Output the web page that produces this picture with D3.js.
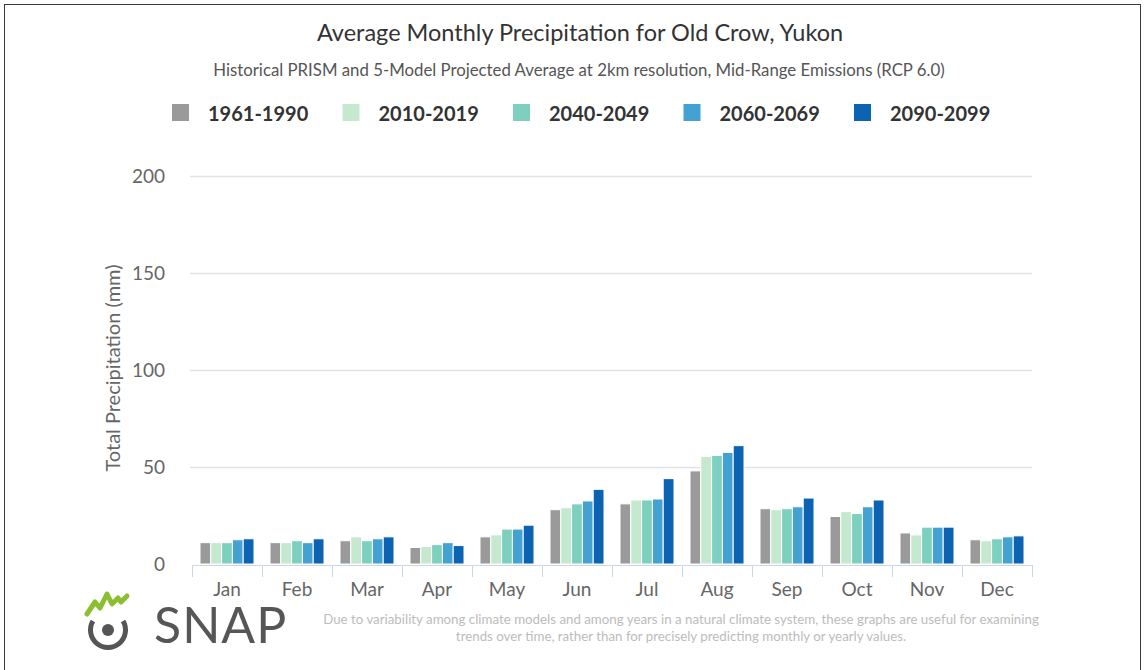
<!DOCTYPE html>
<html>
<head>
<meta charset="utf-8">
<script src="https://cdn.jsdelivr.net/npm/d3@7"></script>
<style>
  html, body { margin: 0; padding: 0; background: #fff; }
  svg { display: block; font-family: Lato, "Open Sans", sans-serif; }
</style>
</head>
<body>
<svg id="chart" width="1144" height="670"></svg>
<script>
// Monthly categories and period series (total precipitation, mm)
const months = ["Jan", "Feb", "Mar", "Apr", "May", "Jun", "Jul", "Aug", "Sep", "Oct", "Nov", "Dec"];
const periods = ["1961-1990", "2010-2019", "2040-2049", "2060-2069", "2090-2099"];
const periodColors = ["#9a9a9a", "#c4e9cf", "#7dd0bf", "#43a2d2", "#0b63b2"];

const p1961_1990 = [11, 11, 12, 8.5, 14, 28, 31, 48, 28.5, 24.5, 16, 12.5];
const p2010_2019 = [11, 11, 14, 9, 15, 29, 33, 55.5, 28, 27, 15, 12];
const p2040_2049 = [11, 12, 12, 10, 18, 31, 33, 56, 28.5, 26, 19, 13];
const p2060_2069 = [12.5, 11, 13, 11, 18, 32.5, 33.5, 57.5, 29.5, 29.5, 19, 14];
const p2090_2099 = [13, 13, 14, 9.5, 20, 38.5, 44, 61, 34, 33, 19, 14.5];

const seriesValues = [p1961_1990, p2010_2019, p2040_2049, p2060_2069, p2090_2099];
const yTicks = [0, 50, 100, 150, 200];

const svg = d3.select("#chart");

// outer frame
svg.append("rect")
  .attr("x", 4.5).attr("y", 4.5)
  .attr("width", 1136).attr("height", 680)
  .attr("fill", "none").attr("stroke", "#3a3a3a").attr("stroke-width", 1);

// title and subtitle
svg.append("text")
  .attr("x", 580).attr("y", 41)
  .attr("text-anchor", "middle")
  .attr("font-size", 23.5).attr("fill", "#333")
  .text("Average Monthly Precipitation for Old Crow, Yukon");

svg.append("text")
  .attr("x", 579).attr("y", 76)
  .attr("text-anchor", "middle")
  .attr("font-size", 16.8).attr("fill", "#555")
  .text("Historical PRISM and 5-Model Projected Average at 2km resolution, Mid-Range Emissions (RCP 6.0)");

// legend
const legend = svg.append("g");
periods.forEach((p, i) => {
  const gx = 172 + i * 170.5;
  legend.append("rect")
    .attr("x", gx).attr("y", 104)
    .attr("width", 17).attr("height", 17)
    .attr("fill", periodColors[i]);
  legend.append("text")
    .attr("x", gx + 36).attr("y", 121)
    .attr("font-size", 20).attr("font-weight", "bold").attr("fill", "#333")
    .text(p);
});

// scales
const x = d3.scaleBand().domain(months).range([192, 1032]).padding(0);
const xInner = d3.scaleBand().domain(periods).range([8, 62]).padding(0);
const y = d3.scaleLinear().domain([0, 200]).range([564, 176]);

// grid lines
svg.append("g")
  .selectAll("line")
  .data(yTicks.filter(t => t > 0))
  .join("line")
  .attr("x1", 190).attr("x2", 1032)
  .attr("y1", d => y(d) + 0.5).attr("y2", d => y(d) + 0.5)
  .attr("stroke", "#e3e3e3").attr("stroke-width", 1.5);

// y axis
const yAxis = svg.append("g")
  .attr("transform", "translate(165,0)")
  .call(d3.axisLeft(y).tickValues(yTicks).tickSize(0).tickPadding(0));
yAxis.select(".domain").remove();
yAxis.selectAll("text")
  .attr("font-family", "Lato, sans-serif")
  .attr("font-size", 19).attr("fill", "#666")
  .attr("dy", "0.36em");

svg.append("text")
  .attr("transform", "translate(120,368) rotate(-90)")
  .attr("text-anchor", "middle")
  .attr("font-size", 20).attr("fill", "#666")
  .text("Total Precipitation (mm)");

// bars
const groups = svg.append("g")
  .selectAll("g")
  .data(months)
  .join("g")
  .attr("transform", m => `translate(${x(m)},0)`);

groups.selectAll("rect")
  .data((m, mi) => periods.map((p, pi) => ({ p, pi, v: seriesValues[pi][mi] })))
  .join("rect")
  .attr("x", d => xInner(d.p))
  .attr("width", xInner.bandwidth())
  .attr("y", d => y(d.v))
  .attr("height", d => y(0) - y(d.v))
  .attr("fill", d => periodColors[d.pi])
  .attr("stroke", "#fff").attr("stroke-width", 1);

// x axis with ticks between categories
svg.append("line")
  .attr("x1", 192).attr("x2", 1032)
  .attr("y1", 565.5).attr("y2", 565.5)
  .attr("stroke", "#ccd6eb").attr("stroke-width", 1);

svg.append("g")
  .selectAll("line")
  .data(months.concat(["end"]))
  .join("line")
  .attr("x1", (m, i) => (i < months.length ? x(m) : 1032) + 0.5)
  .attr("x2", (m, i) => (i < months.length ? x(m) : 1032) + 0.5)
  .attr("y1", 565).attr("y2", 577)
  .attr("stroke", "#ccd6eb").attr("stroke-width", 1);

svg.append("g")
  .selectAll("text")
  .data(months)
  .join("text")
  .attr("x", m => x(m) + x.bandwidth() / 2)
  .attr("y", 596)
  .attr("text-anchor", "middle")
  .attr("font-size", 19).attr("fill", "#666")
  .text(m => m);

// SNAP logo mark
const logo = svg.append("g");
logo.append("path")
  .attr("d", "M87,614 L95,602 L100,608 L107,594 L112,604 L118,598 L121,602 L127,596")
  .attr("fill", "none").attr("stroke", "#8cbf2f").attr("stroke-width", 5)
  .attr("stroke-linejoin", "round").attr("stroke-linecap", "round");
logo.append("circle")
  .attr("cx", 108).attr("cy", 630).attr("r", 6)
  .attr("fill", "#555");
logo.append("path")
  .attr("d", d3.arc()({ innerRadius: 15, outerRadius: 20, startAngle: Math.PI * 0.33, endAngle: Math.PI * 1.67, cornerRadius: 2.5 }))
  .attr("transform", "translate(108,630)")
  .attr("fill", "#555");
logo.append("text")
  .attr("x", 154).attr("y", 643)
  .attr("font-size", 50).attr("fill", "#565656")
  .attr("letter-spacing", 1)
  .text("SNAP");

// footnote
const note = svg.append("text")
  .attr("text-anchor", "middle")
  .attr("font-size", 13.3).attr("fill", "#bcbcbc");
note.append("tspan").attr("x", 681).attr("y", 624)
  .text("Due to variability among climate models and among years in a natural climate system, these graphs are useful for examining");
note.append("tspan").attr("x", 681).attr("y", 641)
  .text("trends over time, rather than for precisely predicting monthly or yearly values.");
</script>
</body>
</html>
